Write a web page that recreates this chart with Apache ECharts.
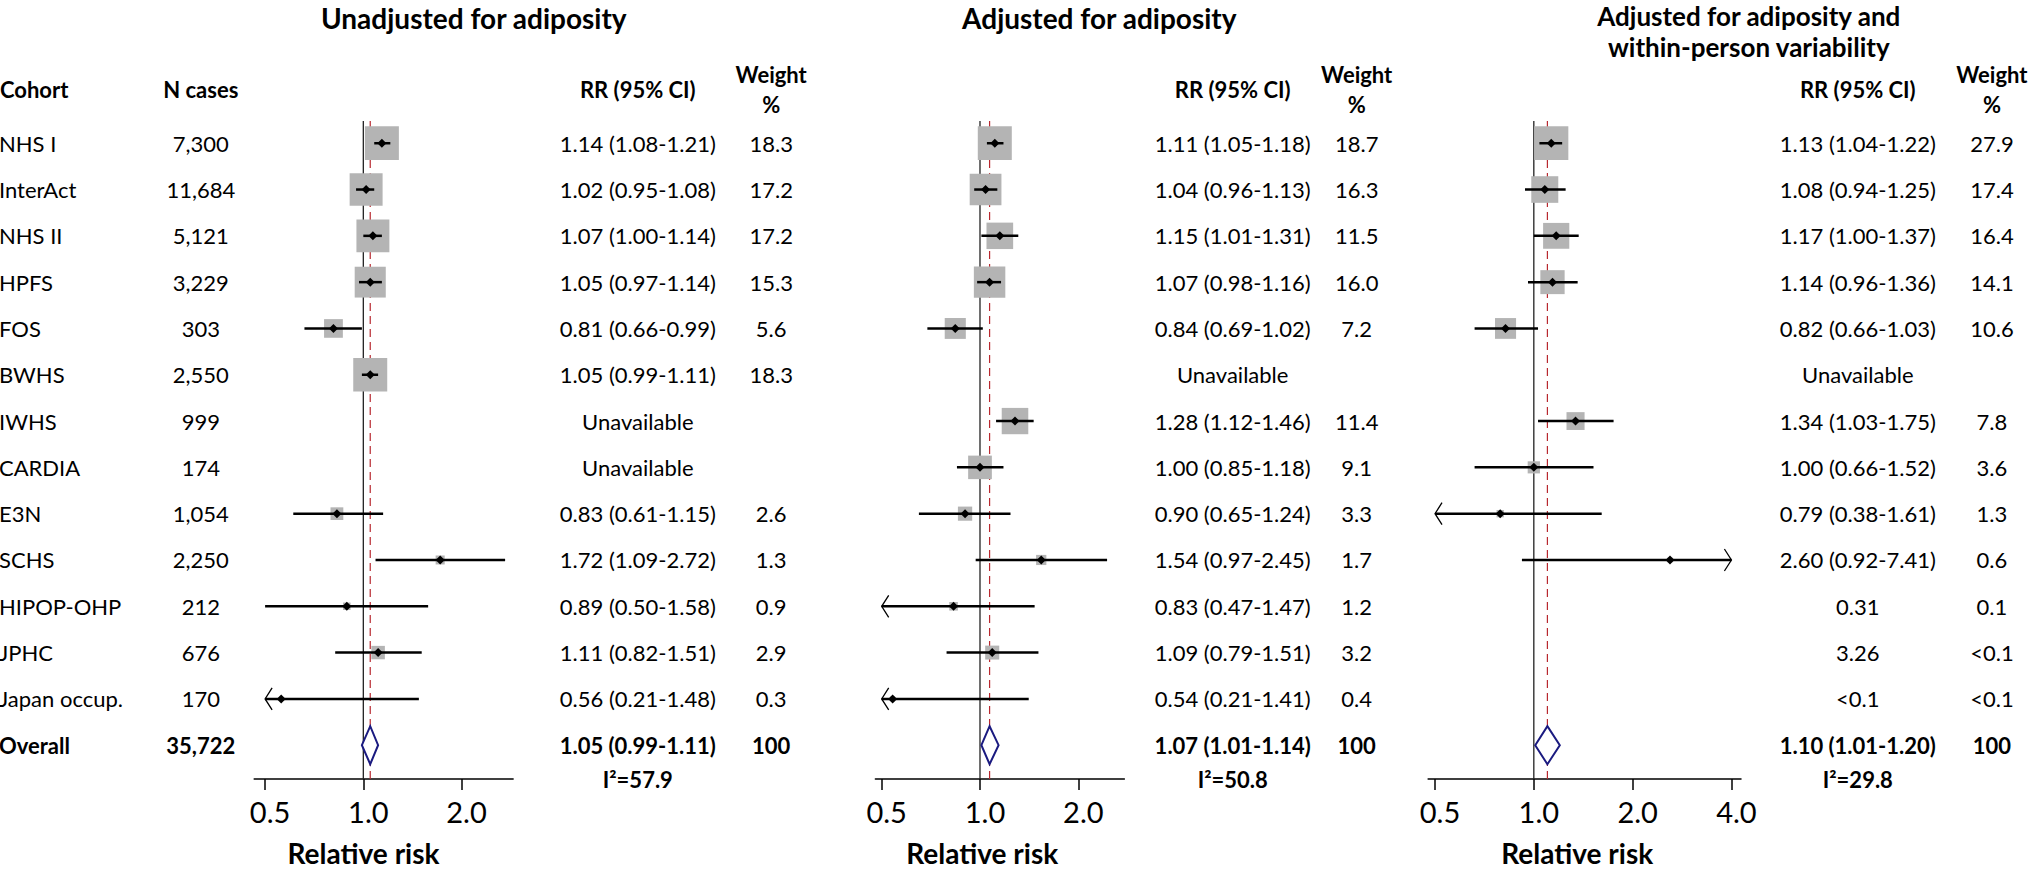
<!DOCTYPE html>
<html><head><meta charset="utf-8">
<script src="https://cdn.jsdelivr.net/npm/echarts@6/dist/echarts.min.js"></script>
<style>html,body{margin:0;padding:0;background:#fff;overflow:hidden}#chart{width:2031px;height:872px}</style>
</head><body><div id="chart"></div>
<script>
// ---------------- DATA ----------------
const cohorts = ['NHS I','InterAct','NHS II','HPFS','FOS','BWHS','IWHS','CARDIA','E3N','SCHS','HIPOP-OHP','JPHC','Japan occup.'];
const nCases = ['7,300','11,684','5,121','3,229','303','2,550','999','174','1,054','2,250','212','676','170'];
const overallCases = '35,722';

// Unadjusted for adiposity
const rrUnadj = [1.14,1.02,1.07,1.05,0.81,1.05,null,null,0.83,1.72,0.89,1.11,0.56];
const loUnadj = [1.08,0.95,1.00,0.97,0.66,0.99,null,null,0.61,1.09,0.50,0.82,0.21];
const hiUnadj = [1.21,1.08,1.14,1.14,0.99,1.11,null,null,1.15,2.72,1.58,1.51,1.48];
const wUnadj  = [18.3,17.2,17.2,15.3,5.6,18.3,null,null,2.6,1.3,0.9,2.9,0.3];
const overallUnadj = [1.05,0.99,1.11];
const i2Unadj = '57.9';

// Adjusted for adiposity
const rrAdj = [1.11,1.04,1.15,1.07,0.84,null,1.28,1.00,0.90,1.54,0.83,1.09,0.54];
const loAdj = [1.05,0.96,1.01,0.98,0.69,null,1.12,0.85,0.65,0.97,0.47,0.79,0.21];
const hiAdj = [1.18,1.13,1.31,1.16,1.02,null,1.46,1.18,1.24,2.45,1.47,1.51,1.41];
const wAdj  = [18.7,16.3,11.5,16.0,7.2,null,11.4,9.1,3.3,1.7,1.2,3.2,0.4];
const overallAdj = [1.07,1.01,1.14];
const i2Adj = '50.8';

// Adjusted for adiposity and within-person variability
const rrWpv = [1.13,1.08,1.17,1.14,0.82,null,1.34,1.00,0.79,2.60,0.31,3.26,'<0.1'];
const loWpv = [1.04,0.94,1.00,0.96,0.66,null,1.03,0.66,0.38,0.92,null,null,null];
const hiWpv = [1.22,1.25,1.37,1.36,1.03,null,1.75,1.52,1.61,7.41,null,null,null];
const wWpv  = [27.9,17.4,16.4,14.1,10.6,null,7.8,3.6,1.3,0.6,0.1,'<0.1','<0.1'];
const overallWpv = [1.10,1.01,1.20];
const i2Wpv = '29.8';

const ticksUnadj = [0.5,1,2];
const ticksAdj = [0.5,1,2];
const ticksWpv = [0.5,1,2,4];

const titleUnadj = ['Unadjusted for adiposity'];
const titleAdj = ['Adjusted for adiposity'];
const titleWpv = ['Adjusted for adiposity and','within-person variability'];

// ---------------- LAYOUT ----------------
const FONT = 'Lato, "Open Sans", sans-serif';

const panels = [
  {rr:rrUnadj, lo:loUnadj, hi:hiUnadj, w:wUnadj, overall:overallUnadj, i2:i2Unadj, ticks:ticksUnadj, title:titleUnadj,
   left:254.2, width:258.9, min:-1.111, max:1.525, clip:[-1,1.525], rrX:637.8, wX:771.2, titleX:473.8, titleY:[18], titleSize:28, nameX:363.5},
  {rr:rrAdj, lo:loAdj, hi:hiAdj, w:wAdj, overall:overallAdj, i2:i2Adj, ticks:ticksAdj, title:titleAdj,
   left:875.4, width:249, min:-1.064, max:1.469, clip:[-1,1.469], rrX:1232.7, wX:1356.7, titleX:1099.3, titleY:[18], titleSize:28, nameX:982.2},
  {rr:rrWpv, lo:loWpv, hi:hiWpv, w:wWpv, overall:overallWpv, i2:i2Wpv, ticks:ticksWpv, title:titleWpv,
   left:1428.1, width:312.9, min:-1.070, max:2.097, clip:[-1,2], rrX:1857.8, wX:1991.9, titleX:1748.8, titleY:[16,47], titleSize:26, nameX:1577.2}
];
const NCASES_X = 200.8;
const GRID_TOP = 121, GRID_H = 658, YMIN = -0.48, YMAX = 13.73;
const OVERALL_ROW = cohorts.length;

function txt(x, y, text, size, bold, align) {
  const a = align || 'center';
  return {type:'text', x:x, y:y, silent:true,
    style:{text:text, fill:'#000', font:(bold?'bold ':'') + size + 'px ' + FONT,
      align:a, verticalAlign:'middle', textAlign:a, textVerticalAlign:'middle'}};
}
function rrLabel(P, r) {
  const v = P.rr[r];
  if (v === null) return 'Unavailable';
  if (typeof P.lo[r] === 'number') return v.toFixed(2) + ' (' + P.lo[r].toFixed(2) + '-' + P.hi[r].toFixed(2) + ')';
  return typeof v === 'number' ? v.toFixed(2) : v;
}
function wLabel(P, r) {
  const v = P.w[r];
  if (v === null) return '';
  return typeof v === 'number' ? v.toFixed(1) : v;
}

const grids = [], xAxes = [], yAxes = [], series = [], graphics = [];
panels.forEach(function(P, i){
  grids.push({left:P.left, width:P.width, top:GRID_TOP, height:GRID_H, containLabel:false});
  xAxes.push({gridIndex:i, type:'value', min:P.min, max:P.max,
    axisLine:{show:true, onZero:false, lineStyle:{color:'#000', width:1.5}},
    axisTick:{show:true, customValues:P.ticks.map(Math.log2), length:11, inside:false, lineStyle:{color:'#000', width:1.5}},
    axisLabel:{show:false}, splitLine:{show:false}});
  yAxes.push({gridIndex:i, type:'value', inverse:true, min:YMIN, max:YMAX, show:false});

  // reference lines (RR = 1 and overall RR)
  series.push({type:'custom', coordinateSystem:'cartesian2d', xAxisIndex:i, yAxisIndex:i, silent:true, clip:false,
    data:[[0, 0], [Math.log2(P.overall[0]), 1]],
    renderItem:function(params, api){
      const cs = params.coordSys;
      const x = api.coord([api.value(0), 0])[0];
      const ref = api.value(1) === 0;
      return {type:'line', shape:{x1:x, y1:cs.y, x2:x, y2:cs.y + cs.height},
        style: ref ? {stroke:'#222', lineWidth:1.3} : {stroke:'#b8282f', lineWidth:1.2, lineDash:[8,5]}};
    }});

  // study markers
  const nums = P.w.filter(function(v){ return typeof v === 'number'; });
  const wmax = Math.max.apply(null, nums);
  const markData = [];
  P.rr.forEach(function(v, r){
    if (typeof v === 'number' && typeof P.lo[r] === 'number')
      markData.push([Math.log2(v), r, Math.log2(P.lo[r]), Math.log2(P.hi[r]), Math.sqrt(P.w[r] / wmax)]);
  });
  series.push({type:'custom', coordinateSystem:'cartesian2d', xAxisIndex:i, yAxisIndex:i, silent:true, clip:false,
    data:markData,
    renderItem:function(params, api){
      const x = api.value(0), row = api.value(1), lo = api.value(2), hi = api.value(3), s = api.value(4);
      const c = api.coord([x, row]);
      const hw = 0.173 * s, hh = 0.364 * s;
      const p0 = api.coord([x - hw, row - hh]), p1 = api.coord([x + hw, row + hh]);
      const loC = Math.max(lo, P.clip[0]), hiC = Math.min(hi, P.clip[1]);
      const a = api.coord([loC, row]), b = api.coord([hiC, row]);
      const ch = [
        {type:'rect', shape:{x:p0[0], y:p0[1], width:p1[0]-p0[0], height:p1[1]-p0[1]}, style:{fill:'#b4b4b4'}},
        {type:'line', shape:{x1:a[0], y1:c[1], x2:b[0], y2:c[1]}, style:{stroke:'#000', lineWidth:2.5}},
        {type:'polygon', shape:{points:[[c[0]-4.5,c[1]],[c[0],c[1]-4.5],[c[0]+4.5,c[1]],[c[0],c[1]+4.5]]}, style:{fill:'#000'}}
      ];
      if (lo < P.clip[0]) ch.push({type:'polyline', shape:{points:[[a[0]+7,c[1]-11],[a[0],c[1]],[a[0]+7,c[1]+11]]}, style:{stroke:'#000', lineWidth:1.3, fill:null}});
      if (hi > P.clip[1]) ch.push({type:'polyline', shape:{points:[[b[0]-7,c[1]-11],[b[0],c[1]],[b[0]-7,c[1]+11]]}, style:{stroke:'#000', lineWidth:1.3, fill:null}});
      return {type:'group', children:ch};
    }});

  // overall diamond
  series.push({type:'custom', coordinateSystem:'cartesian2d', xAxisIndex:i, yAxisIndex:i, silent:true, clip:false,
    data:[[Math.log2(P.overall[0]), OVERALL_ROW, Math.log2(P.overall[1]), Math.log2(P.overall[2])]],
    renderItem:function(params, api){
      const row = api.value(1);
      const top = api.coord([api.value(0), row - 0.41]), bot = api.coord([api.value(0), row + 0.41]);
      const l = api.coord([api.value(2), row]), r = api.coord([api.value(3), row]);
      return {type:'polygon', shape:{points:[l, top, r, bot]}, style:{fill:'#fff', stroke:'#1a1a80', lineWidth:2}};
    }});

  // row texts
  const rowData = [];
  for (let r = 0; r <= OVERALL_ROW; r++) rowData.push([0, r]);
  series.push({type:'custom', coordinateSystem:'cartesian2d', xAxisIndex:i, yAxisIndex:i, silent:true, clip:false,
    data:rowData,
    renderItem:function(params, api){
      const r = api.value(1);
      const y = api.coord([0, r])[1];
      const ch = [];
      const isO = r === OVERALL_ROW;
      if (i === 0) {
        ch.push(txt(-1, y, isO ? 'Overall' : cohorts[r], 22, isO, 'left'));
        ch.push(txt(NCASES_X, y, isO ? overallCases : nCases[r], 22, isO));
      }
      if (isO) {
        const o = P.overall;
        ch.push(txt(P.rrX, y, o[0].toFixed(2) + ' (' + o[1].toFixed(2) + '-' + o[2].toFixed(2) + ')', 22, true));
        ch.push(txt(P.wX, y, '100', 22, true));
      } else {
        ch.push(txt(P.rrX, y, rrLabel(P, r), 22, false));
        ch.push(txt(P.wX, y, wLabel(P, r), 22, false));
      }
      return {type:'group', children:ch};
    }});

  // tick labels
  series.push({type:'custom', coordinateSystem:'cartesian2d', xAxisIndex:i, yAxisIndex:i, silent:true, clip:false,
    data:P.ticks.map(function(t){ return [Math.log2(t), 0]; }),
    renderItem:function(params, api){
      const cs = params.coordSys;
      const x = api.coord([api.value(0), 0])[0];
      return txt(x + 5, cs.y + cs.height + 32, Math.pow(2, api.value(0)).toFixed(1), 29, false);
    }});

  // static texts
  P.title.forEach(function(t, k){ graphics.push(txt(P.titleX, P.titleY[k], t, P.titleSize, true)); });
  graphics.push(txt(P.rrX, 89, 'RR (95% CI)', 22, true));
  graphics.push(txt(P.wX, 74, 'Weight', 22, true));
  graphics.push(txt(P.wX, 104, '%', 22, true));
  graphics.push(txt(P.rrX, 779, 'I\u00B2=' + P.i2, 22, true));
  graphics.push(txt(P.nameX, 853, 'Relative risk', 28, true));
  if (i === 0) {
    graphics.push(txt(0, 89, 'Cohort', 22, true, 'left'));
    graphics.push(txt(NCASES_X, 89, 'N cases', 22, true));
  }
});

const chart = echarts.init(document.getElementById('chart'), null, {renderer:'svg'});
chart.setOption({
  animation:false,
  backgroundColor:'#fff',
  grid:grids, xAxis:xAxes, yAxis:yAxes, series:series,
  graphic:{elements:graphics}
});
</script>
</body></html>
